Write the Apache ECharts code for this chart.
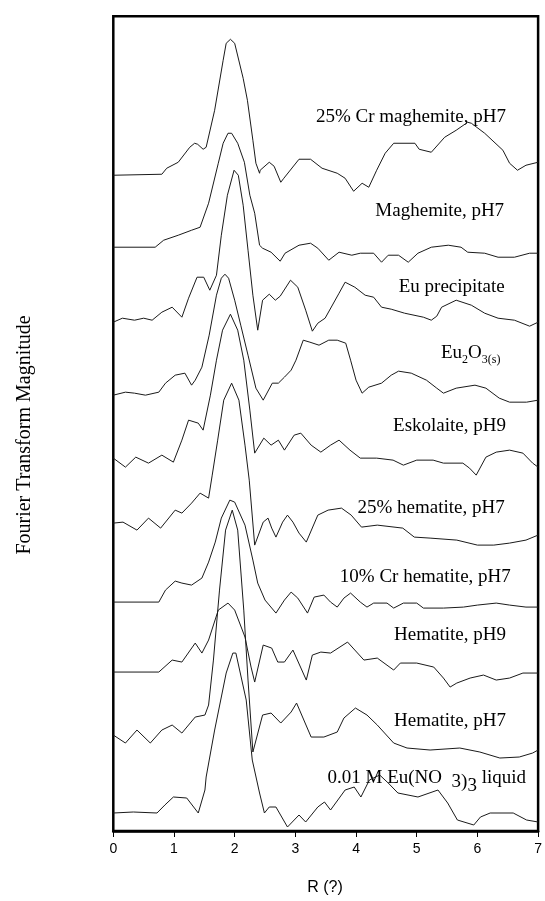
<!DOCTYPE html>
<html>
<head>
<meta charset="utf-8">
<script src="https://cdn.jsdelivr.net/npm/echarts@6/dist/echarts.min.js"></script>
<style>
  html, body { margin: 0; padding: 0; background: #fff; }
  #chart { width: 545px; height: 901px; }
</style>
</head>
<body>
<div id="chart"></div>
<script>
// x axis ticks, R
const rTicks = [0, 1, 2, 3, 4, 5, 6, 7]

// spectra, [R, stacked magnitude] (arbitrary units, offsets included)
const crMaghemite = [[0,656],[0.8,657],[0.88,663],[1.07,669],[1.26,684],[1.34,688],[1.39,687],[1.48,682],[1.53,684],[1.67,721],[1.81,771],[1.86,788],[1.93,792],[2,788],[2.14,753],[2.21,731],[2.3,691],[2.35,668],[2.41,658],[2.42,661],[2.57,669],[2.65,665],[2.76,649],[2.81,653],[3.06,672],[3.25,672],[3.44,663],[3.69,658],[3.82,653],[3.96,640],[4.1,648],[4.21,644],[4.34,661],[4.48,678],[4.62,688],[4.97,688],[5.04,682],[5.24,679],[5.46,694],[5.65,701],[5.84,709],[5.9,708],[6.12,698],[6.42,681],[6.53,668],[6.66,661],[6.8,666],[7,669]]
const maghemite = [[0,584],[0.69,584],[0.83,591],[1.07,596],[1.29,601],[1.43,604],[1.57,628],[1.73,668],[1.81,688],[1.89,698],[1.95,698],[2.05,688],[2.16,669],[2.25,636],[2.33,618],[2.41,586],[2.46,583],[2.6,579],[2.75,570],[2.83,578],[3.06,586],[3.25,588],[3.37,583],[3.55,571],[3.72,579],[3.93,576],[4.07,578],[4.29,578],[4.42,569],[4.53,576],[4.7,576],[4.86,569],[5.02,578],[5.24,584],[5.52,586],[5.73,584],[5.84,579],[6.12,578],[6.34,574],[6.61,574],[6.86,578],[7,578]]
const euPrecipitate = [[0,509],[0.15,513],[0.35,511],[0.5,513],[0.64,511],[0.8,519],[0.97,524],[1.13,514],[1.24,533],[1.38,554],[1.49,554],[1.59,541],[1.7,556],[1.78,596],[1.88,636],[1.99,661],[2.06,656],[2.14,626],[2.22,581],[2.3,536],[2.38,501],[2.46,531],[2.57,537],[2.67,531],[2.75,535],[2.92,551],[3.04,544],[3.17,521],[3.28,500],[3.37,508],[3.49,513],[3.72,538],[3.82,549],[3.98,544],[4.15,536],[4.29,534],[4.42,524],[4.58,522],[4.8,518],[5.11,514],[5.24,511],[5.33,515],[5.41,524],[5.65,531],[5.9,526],[6.12,518],[6.34,513],[6.61,511],[6.86,505],[7,509]]
const eu2o3 = [[0,436],[0.2,439],[0.35,438],[0.53,436],[0.75,439],[0.86,448],[1.02,456],[1.18,458],[1.29,446],[1.35,451],[1.46,464],[1.58,496],[1.7,536],[1.78,553],[1.84,557],[1.9,553],[2,531],[2.1,506],[2.22,476],[2.35,443],[2.47,431],[2.62,448],[2.72,448],[2.82,454],[2.93,461],[3.01,471],[3.13,491],[3.24,489],[3.39,486],[3.55,491],[3.69,491],[3.83,488],[3.91,471],[4,451],[4.1,438],[4.21,444],[4.42,448],[4.58,456],[4.7,460],[4.91,458],[5.16,451],[5.33,443],[5.44,438],[5.65,443],[5.96,446],[6.14,443],[6.36,433],[6.53,429],[6.81,429],[7,431]]
const eskolaite = [[0,373],[0.2,364],[0.37,374],[0.58,368],[0.8,376],[0.99,369],[1.13,391],[1.24,411],[1.4,408],[1.48,401],[1.6,436],[1.7,471],[1.8,501],[1.93,517],[2.05,501],[2.15,471],[2.25,421],[2.33,378],[2.48,393],[2.6,386],[2.72,391],[2.82,381],[2.98,396],[3.09,398],[3.26,386],[3.42,379],[3.58,386],[3.72,391],[3.9,381],[4.07,373],[4.34,373],[4.61,371],[4.78,366],[5,371],[5.27,371],[5.44,368],[5.76,368],[5.87,363],[5.98,356],[6.14,374],[6.31,379],[6.53,381],[6.75,378],[6.91,368],[7,364]]
const hematite25 = [[0,308],[0.16,309],[0.39,301],[0.58,313],[0.78,303],[1.02,321],[1.13,318],[1.29,328],[1.43,338],[1.57,333],[1.63,356],[1.72,391],[1.82,431],[1.95,448],[2.07,431],[2.17,386],[2.24,351],[2.33,286],[2.47,309],[2.55,313],[2.61,303],[2.68,294],[2.79,309],[2.87,316],[2.96,309],[3.06,298],[3.18,289],[3.37,316],[3.54,321],[3.76,323],[3.92,316],[4.09,304],[4.35,306],[4.77,303],[4.96,294],[5.22,293],[5.66,291],[6,286],[6.27,286],[6.53,288],[6.8,291],[7,296]]
const crHematite10 = [[0,229],[0.75,229],[0.86,241],[1.02,250],[1.13,248],[1.29,246],[1.46,253],[1.57,269],[1.68,289],[1.78,313],[1.92,331],[2,329],[2.17,306],[2.3,271],[2.38,248],[2.5,231],[2.68,218],[2.82,231],[2.93,239],[3.04,233],[3.2,218],[3.31,234],[3.47,236],[3.58,229],[3.69,224],[3.8,233],[3.91,238],[4.07,229],[4.18,224],[4.29,228],[4.51,228],[4.62,223],[4.78,228],[5,228],[5.11,223],[5.44,223],[5.77,224],[6,226],[6.31,228],[6.53,226],[6.8,224],[7,224]]
const hematitePH9 = [[0,159],[0.75,159],[0.97,171],[1.13,169],[1.35,188],[1.46,178],[1.57,191],[1.73,221],[1.89,228],[2,221],[2.17,194],[2.27,164],[2.33,149],[2.47,186],[2.61,183],[2.71,169],[2.82,169],[2.96,181],[3.18,151],[3.28,176],[3.42,179],[3.58,178],[3.86,189],[4.13,171],[4.35,173],[4.62,161],[4.73,168],[5,168],[5.28,164],[5.44,153],[5.55,144],[5.66,148],[5.88,153],[6.1,156],[6.31,151],[6.53,153],[6.75,158],[7,158]]
const hematitePH7 = [[0,96],[0.2,88],[0.39,101],[0.61,88],[0.8,101],[0.97,106],[1.13,98],[1.35,114],[1.51,116],[1.57,126],[1.65,171],[1.75,241],[1.85,301],[1.96,321],[2.05,301],[2.15,221],[2.22,151],[2.3,79],[2.46,116],[2.6,118],[2.76,108],[2.93,119],[3.02,128],[3.26,94],[3.47,94],[3.69,99],[3.8,113],[3.99,123],[4.18,116],[4.35,106],[4.62,88],[4.84,83],[5.22,81],[5.71,83],[6.04,79],[6.37,73],[6.69,74],[6.91,78],[7,81]]
const euLiquid = [[0,18],[0.33,19],[0.72,18],[0.85,26],[0.99,34],[1.21,33],[1.4,18],[1.51,41],[1.53,54],[1.67,101],[1.86,158],[1.97,178],[2.02,178],[2.19,131],[2.29,71],[2.41,38],[2.49,18],[2.57,24],[2.68,24],[2.87,4],[3.06,16],[3.17,9],[3.37,24],[3.48,29],[3.58,21],[3.82,41],[3.97,44],[4.08,34],[4.22,51],[4.39,56],[4.53,48],[4.69,38],[5.02,34],[5.35,41],[5.51,28],[5.67,11],[5.94,6],[6.05,14],[6.21,18],[6.59,18],[6.81,11],[7,9]]

const spectra = [crMaghemite, maghemite, euPrecipitate, eu2o3, eskolaite, hematite25, crHematite10, hematitePH9, hematitePH7, euLiquid]

// curve labels (rich text) and where their right edge sits, [R, magnitude]
const labelTexts = [
  '25% Cr maghemite, pH7',
  'Maghemite, pH7',
  'Eu precipitate',
  '{n|Eu}{s|2}{n|O}{s|3(s)}',
  'Eskolaite, pH9',
  '25% hematite, pH7',
  '10% Cr hematite, pH7',
  'Hematite, pH9',
  'Hematite, pH7',
  '{n|0.01 M Eu(NO  }{a|3)}{b|3}{n| liquid}'
]
const labelAnchors = [[6.47,714],[6.44,620],[6.45,544],[6.38,478],[6.47,405],[6.45,323],[6.55,254],[6.47,196],[6.47,110],[6.8,53]]

const serif = '"Liberation Serif", "Times New Roman", serif'
const sans = '"Liberation Sans", Arial, sans-serif'
const labelSize = 19

const chart = echarts.init(document.getElementById('chart'))

chart.setOption({
  animation: false,
  grid: {
    left: 113.3, right: 4.2, top: 16.3, bottom: 70,
    show: true, borderColor: '#000', borderWidth: 2.5
  },
  xAxis: {
    type: 'value',
    min: rTicks[0], max: rTicks[rTicks.length - 1], interval: 1,
    axisLine: { lineStyle: { color: '#000', width: 2.5 } },
    axisTick: { inside: false, length: 6, lineStyle: { color: '#000', width: 1 } },
    axisLabel: { color: '#000', fontFamily: sans, fontSize: 14, margin: 11 },
    splitLine: { show: false }
  },
  yAxis: {
    type: 'value', min: 0, max: 815, show: false
  },
  series: spectra.map(d => ({
    type: 'line',
    data: d,
    symbol: 'none',
    lineStyle: { color: '#1a1a1a', width: 1 }
  }))
})

const rich = {
  n: { fontFamily: serif, fontSize: labelSize, color: '#000' },
  s: { fontFamily: serif, fontSize: 12, color: '#000', padding: [13, 0, 0, 0] },
  a: { fontFamily: serif, fontSize: labelSize, color: '#000', padding: [8, 0, 0, 0] },
  b: { fontFamily: serif, fontSize: labelSize, color: '#000', padding: [16, 0, 0, 0] }
}

const graphics = labelTexts.map((t, i) => {
  const p = chart.convertToPixel({ gridIndex: 0 }, labelAnchors[i])
  return {
    type: 'text', x: p[0], y: p[1],
    style: {
      text: t, rich: rich,
      font: labelSize + 'px ' + serif, fill: '#000',
      align: 'right', verticalAlign: 'middle'
    }
  }
})

// axis titles
graphics.push({
  type: 'text', x: 25, y: 435, rotation: Math.PI / 2,
  style: { text: 'Fourier Transform Magnitude', font: '20px ' + serif, fill: '#000', align: 'center', verticalAlign: 'middle' }
})
graphics.push({
  type: 'text', x: 325, y: 888,
  style: { text: 'R (?)', font: '16px ' + sans, fill: '#000', align: 'center', verticalAlign: 'middle' }
})

chart.setOption({ graphic: graphics })
</script>
</body>
</html>
